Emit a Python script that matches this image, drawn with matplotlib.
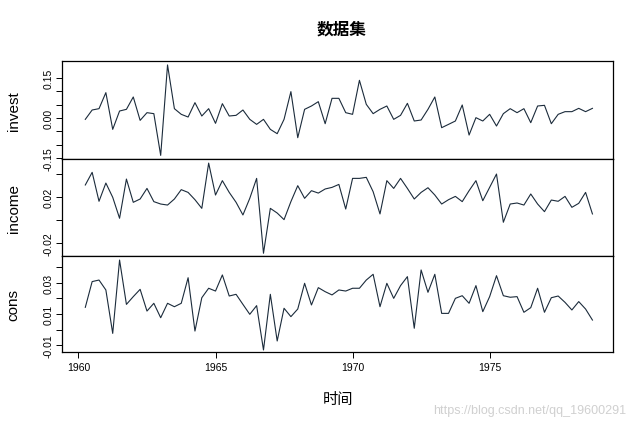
import matplotlib
matplotlib.use("Agg")
import matplotlib.pyplot as plt
import numpy as np

plt.rcParams['font.family'] = ['Liberation Sans', 'Noto Sans CJK SC', 'DejaVu Sans']

start_year = 1960.25
freq = 4

invest_px = [175,147,143,95,205,150,145,108,178,155,158,283,12,143,160,168,125,165,143,187,
             128,165,163,147,175,190,175,205,218,175,92,230,145,135,122,188,112,112,
             155,160,58,130,158,145,135,175,163,127,180,177,145,108,200,190,180,132,222,170,
             180,160,195,158,143,155,143,185,135,133,188,160,152,152,142,152,142]
income_px = [78,40,127,72,115,178,60,130,120,88,128,135,138,120,92,100,122,148,12,108,
             65,100,130,168,118,58,283,148,162,182,128,80,118,95,102,90,85,76,
             150,58,58,55,98,165,65,88,58,88,120,100,86,108,135,122,112,128,95,65,
             125,85,45,190,135,132,138,105,135,158,123,127,112,145,133,100,165]
cons_px = [157,80,75,105,235,15,148,125,103,168,145,188,145,155,145,68,228,128,100,108,
           60,123,118,148,178,152,285,118,258,160,185,162,85,150,98,110,120,105,
           108,100,100,75,58,155,85,130,92,65,220,45,112,58,175,175,130,122,145,92,
           170,125,62,122,127,125,172,158,100,172,128,123,142,165,140,162,195]

invest = [round((171 - v) / 800, 4) for v in invest_px]
income = [round((183 - v) / 3425, 4) for v in income_px]
cons = [round(0.01 + (177 - v) / 4650, 4) for v in cons_px]
t = start_year + np.arange(len(invest)) / freq

W, H = 639, 431
fig = plt.figure(figsize=(W/100, H/100), dpi=100)
L, R = 62/W, 613/W
panels = [
    ("invest", invest, (62, 160), (-0.1535, 0.2135), np.arange(-0.15, 0.151, 0.05), {-0.15: "-0.15", 0.0: "0.00", 0.15: "0.15"}),
    ("income", income, (160, 257), (-0.0316, 0.0535), [-0.02, 0.0, 0.02, 0.04], {-0.02: "-0.02", 0.02: "0.02"}),
    ("cons", cons, (257, 353), (-0.0145, 0.0474), [-0.01, 0.0, 0.01, 0.02, 0.03, 0.04], {-0.01: "-0.01", 0.01: "0.01", 0.03: "0.03"}),
]
col = "#1b2b3b"
axes = []
for i, (name, vals, (y0, y1), ylim, ticks, labs) in enumerate(panels):
    ax = fig.add_axes([L, 1 - y1/H, R - L, (y1 - y0)/H])
    ax.plot(t, vals, color=col, lw=0.8)
    ax.set_xlim(1959.4, 1979.5)
    ax.set_ylim(*ylim)
    ax.set_yticks(ticks)
    ax.set_yticklabels([labs.get(round(v, 2), "") for v in ticks], rotation=90, va='center', fontsize=7.5)
    ax.set_ylabel(name, fontsize=11)
    ax.yaxis.set_label_coords(-0.075, 0.5)
    ax.tick_params(axis='y', length=4, width=0.7, pad=2)
    for s in ax.spines.values():
        s.set_linewidth(0.9)
    if i < 2:
        ax.set_xticks([])
    else:
        ax.set_xticks([1960, 1965, 1970, 1975])
        ax.tick_params(axis='x', labelsize=7.5, length=4, width=0.7)
        ax.set_xlabel("时间", fontsize=11, labelpad=14)
    axes.append(ax)

fig.text(0.535, 1 - 30/H, "数据集", ha='center', va='center', fontsize=12, fontweight='bold')
fig.text(0.98, 1 - 411/H, "https://blog.csdn.net/qq_19600291", ha='right', va='center', fontsize=9, color='#d0d0d0')
fig.savefig("out.png", dpi=100)
